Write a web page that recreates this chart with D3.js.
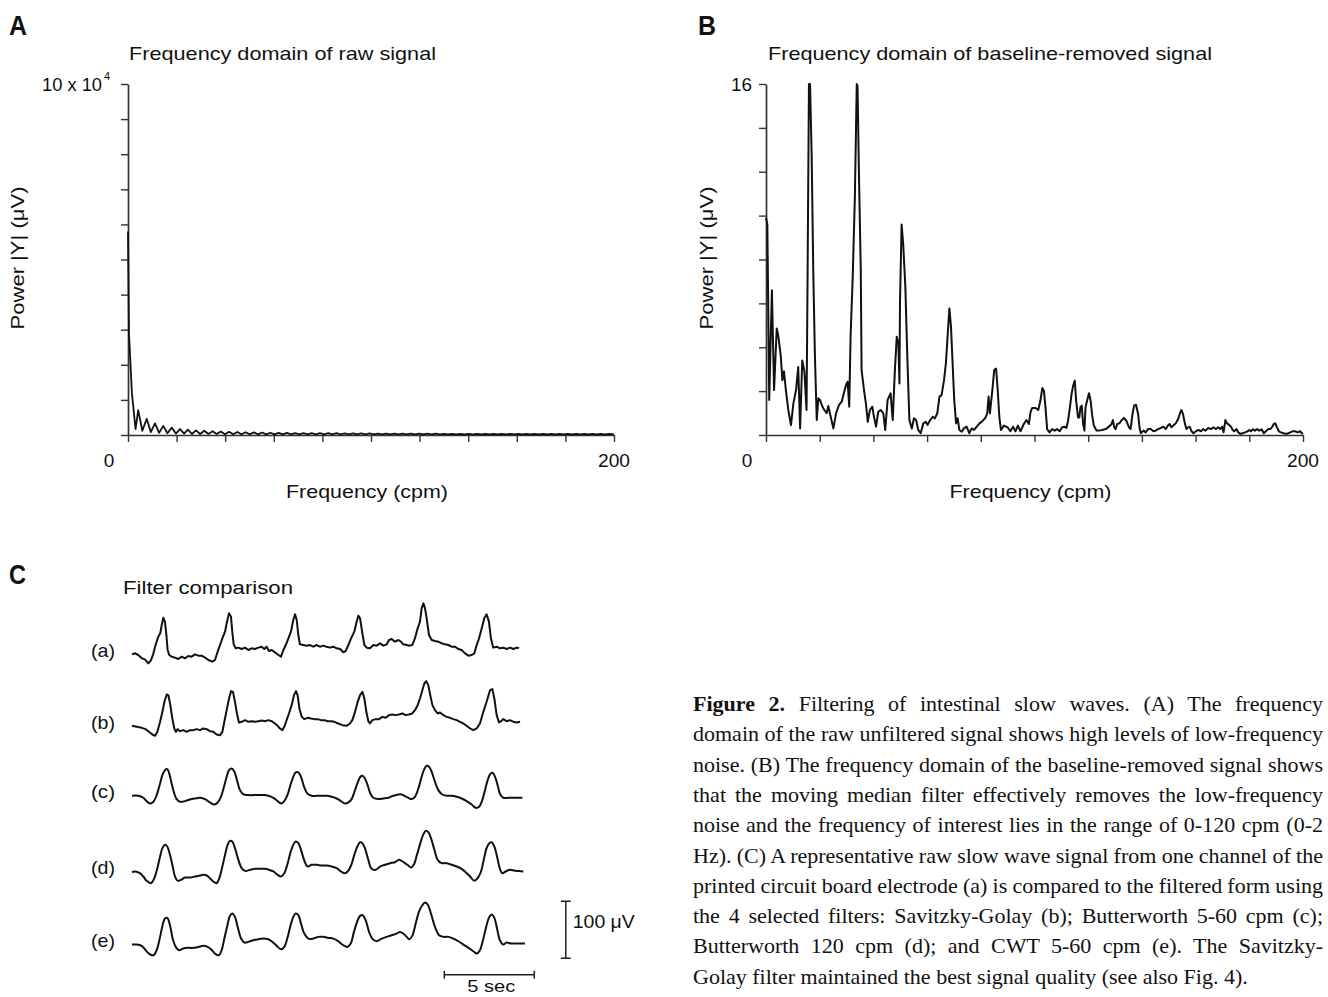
<!DOCTYPE html>
<html>
<head>
<meta charset="utf-8">
<script src="https://cdn.jsdelivr.net/npm/d3@7"></script>
<style>
  body { margin: 0; background: #fff; }
  svg { display: block; }
  text { fill: #111; font-family: "Liberation Sans", Arial, sans-serif; }
  .axis path, .axis line { stroke: #333; }
  .axis path { stroke-width: 1.7; }
  .axis line { stroke-width: 1.4; }
</style>
</head>
<body>
<svg id="fig" width="1328" height="997"></svg>
<script>
// ---- data ----------------------------------------------------------------
// frequency (cpm) ticks shared by both spectra
const freqTicks = [0, 20, 40, 60, 80, 100, 120, 140, 160, 180, 200];
const rawTicks = [0, 1, 2, 3, 4, 5, 6, 7, 8, 9, 10];          // x 10^4 µV
const cleanTicks = [0, 2, 4, 6, 8, 10, 12, 14, 16];             // µV

// A: raw signal spectrum, [cpm, power x 10^4]
const rawSpectrum = [
  [0,5.8],[0.4,2.9],[1.6,1.2],[3.1,0.17],[4.2,0.71],[5.9,0.12],[7.7,0.46],[9.4,0.08],
  [11.1,0.33],[12.8,0.06],[14.5,0.26],[16.2,0.05],[18.0,0.21],[19.7,0.04],[21.4,0.17],
  [23.1,0.04],[24.6,0.15],[26.3,0.03],[28.0,0.13],[29.7,0.03],[31.4,0.12],[33.1,0.03],
  [34.8,0.11],[36.5,0.03],[38.2,0.1],[39.9,0.02],[41.6,0.09],[43.3,0.02],[45.0,0.085],
  [46.7,0.02],[48.4,0.08],[50.1,0.02],[51.8,0.075],[53.5,0.02],[55.2,0.07],[56.9,0.02],
  [58.6,0.065],[60.3,0.02],[62.0,0.06],[63.7,0.02],[65.4,0.06],[67.1,0.02],[68.8,0.055],
  [70.5,0.02],[72.2,0.055],[73.9,0.02],[75.6,0.05],[77.3,0.02],[79.0,0.05],[80.7,0.02],
  [82.4,0.05],[84.1,0.02],[85.8,0.05],[87.5,0.02],[89.2,0.045],[90.9,0.02],[92.6,0.045],
  [94.3,0.02],[96.0,0.045],[97.7,0.02],[99.4,0.045],[101.1,0.02],[102.8,0.04],[104.5,0.02],
  [106.2,0.04],[107.9,0.02],[109.6,0.04],[111.3,0.02],[113.0,0.04],[114.7,0.02],[116.4,0.04],
  [118.1,0.02],[119.8,0.04],[121.5,0.02],[123.2,0.04],[124.9,0.02],[126.6,0.04],[128.3,0.02],
  [130.0,0.035],[131.7,0.02],[133.4,0.035],[135.1,0.02],[136.8,0.035],[138.5,0.02],[140.2,0.035],
  [141.9,0.02],[143.6,0.035],[145.3,0.02],[147.0,0.035],[148.7,0.02],[150.4,0.035],[152.1,0.02],
  [153.8,0.035],[155.5,0.02],[157.2,0.035],[158.9,0.02],[160.6,0.035],[162.3,0.02],[164.0,0.035],
  [165.7,0.02],[167.4,0.035],[169.1,0.02],[170.8,0.035],[172.5,0.02],[174.2,0.035],[175.9,0.02],
  [177.6,0.035],[179.3,0.02],[181.0,0.035],[182.7,0.02],[184.4,0.035],[186.1,0.02],[187.8,0.035],
  [189.5,0.02],[191.2,0.035],[192.9,0.02],[194.6,0.035],[196.3,0.02],[198.0,0.035],[200,0.02]
];

// B: baseline-removed spectrum, [cpm, power µV]
const cleanSpectrum = [
  [0,9.9],[0.5,9.6],[1.2,1.6],[2.2,6.6],[3.0,2.05],[4.0,4.86],[4.6,4.5],[5.5,3.6],[6.1,2.5],
  [6.7,2.9],[7.4,2.05],[8.3,1.14],[9.3,0.45],[10.2,1.44],[11.2,2.05],[12.0,3.1],[12.7,0.3],
  [13.5,3.4],[14.3,2.9],[15.1,1.14],[15.5,7.5],[16.0,16],[16.4,16],[17.0,12.8],[17.6,7.5],
  [18.2,3.7],[18.9,0.68],[19.5,1.67],[20.1,1.6],[21.0,1.3],[21.7,1.14],[22.6,0.99],[23.2,1.32],
  [24.1,0.83],[25.1,0.3],[26.1,0.99],[27.2,1.37],[28.2,1.52],[29.0,1.9],[29.8,2.28],[30.4,2.43],
  [31.0,1.29],[31.5,4.48],[32.3,7.2],[33.1,10.85],[33.8,16],[34.1,15.9],[34.6,12],[35.3,7.5],
  [35.6,2.96],[36.5,2.05],[37.2,1.44],[37.9,0.6],[38.7,1.14],[39.6,1.29],[40.2,0.83],[41.0,0.38],
  [41.8,1.06],[42.7,1.14],[43.7,0.99],[44.4,0.23],[45.3,1.6],[46.4,1.9],[47.2,0.68],[48.0,2.96],
  [48.7,4.48],[49.3,4.17],[49.7,2.35],[49.9,6.0],[50.5,9.6],[51.1,8.7],[51.9,6.75],[52.6,3.7],
  [53.4,0.68],[54.3,0.3],[55.1,0.76],[55.9,0.68],[56.7,0.23],[57.6,0.08],[58.6,0.53],[59.5,0.6],
  [60.2,0.46],[61.1,0.68],[62.1,0.83],[62.9,0.76],[63.8,0.99],[64.6,1.75],[65.4,1.82],[66.3,2.5],
  [67.0,3.26],[67.7,4.63],[68.3,5.77],[68.9,4.93],[69.5,3.26],[70.1,1.6],[70.8,0.53],[71.4,0.76],
  [72.0,0.23],[72.9,0.15],[73.7,0.3],[74.7,0.38],[75.7,0.08],[76.6,0.3],[77.5,0.23],[78.5,0.38],
  [79.5,0.53],[80.3,0.6],[81.6,0.76],[82.4,0.99],[82.9,1.75],[83.4,0.99],[84.3,2.05],[85.0,2.96],
  [85.7,3.03],[86.3,2.05],[86.9,0.83],[87.5,0.23],[88.6,0.43],[90.0,0.35],[91.0,0.17],[92.0,0.38],
  [92.9,0.17],[93.8,0.43],[94.8,0.17],[96.0,0.5],[97.0,0.68],[97.9,0.5],[98.5,1.03],[99.1,1.23],
  [100.4,1.23],[101.4,1.14],[102.2,1.57],[102.9,2.14],[103.5,2.02],[104.1,1.26],[104.7,0.27],
  [105.6,0.12],[106.6,0.27],[107.5,0.2],[108.4,0.27],[109.4,0.17],[110.3,0.35],[111.3,0.38],
  [111.9,0.32],[112.5,0.65],[113.2,1.26],[113.8,1.87],[114.4,2.25],[115.0,2.48],[115.5,1.57],
  [116.2,0.8],[116.7,0.8],[117.1,1.26],[117.6,1.34],[118.1,0.5],[118.6,0.2],[119.0,1.26],
  [119.6,1.57],[120.3,1.9],[120.9,1.57],[121.5,0.88],[122.1,0.43],[123.1,0.2],[124.0,0.2],
  [125.2,0.23],[126.5,0.27],[127.7,0.38],[128.7,0.5],[129.2,0.68],[129.7,0.35],[130.2,0.27],
  [130.8,0.5],[131.6,0.53],[132.3,0.65],[133.3,0.78],[134.2,0.65],[135.2,0.35],[135.8,0.27],
  [136.5,0.96],[137.1,1.34],[137.8,1.38],[138.6,0.96],[139.1,0.35],[139.6,0.08],[140.6,0.2],
  [141.4,0.12],[142.3,0.27],[143.3,0.27],[144.3,0.17],[145.1,0.2],[146.0,0.27],[147.0,0.32],
  [148.0,0.38],[148.9,0.27],[149.7,0.43],[150.3,0.5],[151.0,0.35],[151.7,0.43],[152.6,0.53],
  [153.5,0.73],[154.1,0.96],[154.7,1.14],[155.3,0.96],[156.0,0.53],[156.6,0.27],[157.2,0.35],
  [157.8,0.38],[158.5,0.17],[159.2,0.08],[160.1,0.17],[161.0,0.23],[162.0,0.17],[162.8,0.27],
  [163.7,0.2],[164.7,0.32],[165.7,0.27],[166.6,0.35],[167.6,0.27],[168.4,0.35],[169.2,0.27],
  [169.9,0.38],[170.4,0.12],[171.1,0.68],[171.7,0.53],[172.4,0.47],[173.2,0.38],[173.8,0.23],
  [174.4,0.17],[175.2,0.27],[175.9,0.12],[176.7,0.05],[177.5,0.08],[178.4,0.12],[179.4,0.17],
  [180.0,0.23],[180.6,0.17],[181.4,0.26],[182.1,0.2],[182.9,0.27],[183.7,0.2],[184.6,0.26],
  [185.4,0.08],[186.2,0.17],[187.1,0.27],[187.8,0.27],[188.6,0.38],[189.1,0.5],[189.7,0.53],
  [190.3,0.35],[191.0,0.17],[191.8,0.12],[192.8,0.08],[193.7,0.05],[194.5,0.08],[195.3,0.12],
  [196.1,0.17],[197.0,0.17],[198.0,0.12],[198.9,0.17],[199.6,0.08],[200,0.05]
];

// C: slow-wave traces, [sec, µV]
const traceNames = ["(a)", "(b)", "(c)", "(d)", "(e)"];
const traceOffsets = [0, -126, -247, -381, -508];   // vertical stacking, µV

const traceA = [
  [0,1],[0.17,3],[0.35,0],[0.54,-5.8],[0.72,-7.6],[0.91,-14.6],[1.06,-8.8],[1.19,2.9],[1.31,17.5],
  [1.46,32.2],[1.57,38],[1.65,52.6],[1.74,65.5],[1.83,58.5],[1.91,35.1],[1.98,8.8],[2.07,0],
  [2.2,-2.9],[2.39,-4.7],[2.57,-7],[2.76,-2.9],[2.94,-5.8],[3.13,-1.8],[3.31,-2.9],[3.5,1.2],
  [3.69,-1.2],[3.87,-1.2],[4.06,-4.7],[4.24,-8.8],[4.46,-11.7],[4.61,-8.8],[4.76,5.8],[4.89,17.5],
  [5.02,29.2],[5.17,40.9],[5.26,55.6],[5.39,73.1],[5.5,67.3],[5.57,40.9],[5.65,18.7],[5.76,11.7],
  [5.91,12.9],[6.09,10.5],[6.28,12.9],[6.46,8.8],[6.65,11.7],[6.83,10.5],[7.02,12.9],[7.2,14.6],
  [7.35,10.5],[7.48,14.6],[7.61,7],[7.76,8.8],[7.94,4.7],[8.13,0],[8.28,-2.9],[8.41,8.8],[8.54,17.5],
  [8.69,29.2],[8.83,40.9],[8.96,61.4],[9.06,71.3],[9.15,61.4],[9.24,35.1],[9.33,18.7],[9.52,17.5],
  [9.7,16.4],[9.89,17.5],[10.07,14.6],[10.26,17.5],[10.44,14.6],[10.63,16.4],[10.81,14.6],[11,12.9],
  [11.19,14.6],[11.37,11.7],[11.56,10.5],[11.74,4.7],[11.87,7],[12.02,17.5],[12.17,29.2],[12.35,40.9],
  [12.48,58.5],[12.57,69],[12.67,64.3],[12.8,38],[12.91,17.5],[13.04,12.9],[13.22,11.7],[13.41,17.5],
  [13.59,16.4],[13.78,20.5],[13.96,16.4],[14.15,18.7],[14.28,26.3],[14.43,28.1],[14.61,23.4],
  [14.8,26.3],[14.94,23.4],[15.07,18.7],[15.26,17.5],[15.44,16.4],[15.57,17.5],[15.72,29.2],
  [15.87,46.8],[16,58.5],[16.09,81.9],[16.19,90.6],[16.28,81.9],[16.37,64.3],[16.5,35.1],[16.65,26.3],
  [16.83,24.6],[17.02,23.4],[17.2,20.5],[17.39,18.7],[17.57,17.5],[17.76,14.6],[17.94,14.6],
  [18.13,10.5],[18.31,8.8],[18.5,2.9],[18.69,-1.2],[18.87,0],[19.02,2.9],[19.15,17.5],[19.28,29.2],
  [19.43,46.8],[19.57,64.3],[19.7,71.3],[19.83,58.5],[19.94,29.2],[20.07,12.9],[20.26,14.6],
  [20.44,11.7],[20.63,12.9],[20.81,10.5],[21,12.9],[21.19,10.5],[21.37,12.9],[21.5,11.7]
];

const traceB = [
  [0,1.8],[0.26,0],[0.54,-1.8],[0.76,-4.1],[0.94,-8.8],[1.13,-13.5],[1.28,-15.8],[1.41,-8.8],
  [1.56,8.8],[1.69,26.3],[1.8,43.9],[1.93,56.7],[2.02,55.6],[2.13,38],[2.24,14.6],[2.35,-2.9],
  [2.44,-8.8],[2.54,-4.1],[2.67,-7.6],[2.85,-5.8],[3.04,-8.8],[3.22,-5.8],[3.41,-5.8],[3.59,-4.1],
  [3.78,-5.8],[3.96,-2.9],[4.15,-4.1],[4.33,-7.6],[4.52,-8.8],[4.7,-13.5],[4.89,-14.6],[5.02,-8.8],
  [5.13,8.8],[5.26,29.2],[5.39,49.7],[5.5,62.6],[5.61,61.4],[5.72,43.9],[5.83,23.4],[5.94,7.6],
  [6.09,8.8],[6.28,11.7],[6.46,8.8],[6.65,9.9],[6.83,8.8],[7.02,9.9],[7.2,11.1],[7.39,9.9],
  [7.57,11.7],[7.76,9.9],[7.94,5.8],[8.09,1.8],[8.22,-2.9],[8.35,-5.8],[8.46,0],[8.59,11.7],
  [8.72,23.4],[8.87,38],[9,55.6],[9.11,62.6],[9.2,55.6],[9.3,32.2],[9.43,17.5],[9.57,13.5],
  [9.76,15.8],[9.94,14.6],[10.13,13.5],[10.31,13.5],[10.5,11.7],[10.69,11.7],[10.87,9.9],
  [11.06,9.9],[11.24,8.8],[11.46,5.8],[11.69,2.9],[11.93,1.8],[12.11,5.8],[12.24,11.7],[12.39,26.3],
  [12.54,43.9],[12.67,55.6],[12.8,61.4],[12.91,49.7],[13.02,26.3],[13.13,9.9],[13.22,5.8],
  [13.35,11.7],[13.54,13.5],[13.72,13.5],[13.91,17.5],[14.09,15.8],[14.28,20.5],[14.46,21.6],
  [14.65,20.5],[14.83,21.6],[15.02,23.4],[15.2,20.5],[15.39,21.6],[15.57,23.4],[15.72,29.2],
  [15.87,38],[16,49.7],[16.13,64.3],[16.24,76],[16.35,80.1],[16.46,73.1],[16.57,55.6],[16.69,38],
  [16.83,29.2],[16.98,23.4],[17.11,25.1],[17.3,20.5],[17.48,17.5],[17.67,15.8],[17.85,13.5],
  [18.04,11.7],[18.22,8.8],[18.41,5.8],[18.59,1.8],[18.78,-2.9],[18.96,-5.8],[19.15,-2.9],
  [19.33,5.8],[19.52,26.3],[19.7,43.9],[19.89,64.3],[20.02,66.1],[20.13,49.7],[20.26,20.5],
  [20.39,7.6],[20.5,9.9],[20.63,13.5],[20.81,9.9],[21,11.7],[21.19,8.8],[21.37,7.6],[21.56,8.8]
];

const traceC = [
  [0,0],[0.35,0],[0.63,-3.5],[0.81,-9.4],[1,-13.5],[1.19,-10.5],[1.37,1.2],[1.56,21.6],[1.7,37.4],
  [1.83,45],[1.96,46.8],[2.07,39.2],[2.2,21.6],[2.35,4.1],[2.48,-5.8],[2.67,-10.5],[2.94,-9.4],
  [3.22,-6.4],[3.5,-4.7],[3.78,-3.5],[4.06,-5.8],[4.33,-11.7],[4.57,-15.2],[4.76,-11.7],[4.94,-1.8],
  [5.11,15.8],[5.26,33.3],[5.39,45],[5.54,48],[5.69,42.1],[5.83,27.5],[6,9.9],[6.19,2.3],[6.46,1.2],
  [6.74,1.2],[7.02,1.2],[7.3,1.2],[7.57,0],[7.85,-3.5],[8.09,-9.4],[8.28,-13.5],[8.46,-9.4],
  [8.65,2.3],[8.81,19.9],[8.96,33.3],[9.09,40.9],[9.24,40.9],[9.39,33.3],[9.56,15.8],[9.74,4.1],
  [9.98,0],[10.26,0],[10.54,0],[10.81,0],[11.09,-1.8],[11.37,-4.7],[11.61,-9.4],[11.83,-13.5],
  [12.02,-11.7],[12.2,-5.8],[12.39,9.9],[12.54,23.4],[12.69,33.3],[12.8,35.1],[12.94,30.4],
  [13.09,18.7],[13.24,4.1],[13.41,-3.5],[13.69,-5.8],[13.96,-4.7],[14.24,-3.5],[14.52,0],[14.8,2.3],
  [14.98,2.3],[15.17,-0.6],[15.35,-3.5],[15.54,-5.8],[15.72,-1.8],[15.91,12.9],[16.09,33.3],
  [16.24,46.8],[16.37,52.6],[16.5,50.9],[16.65,42.1],[16.83,24.6],[17.02,9.9],[17.24,2.3],[17.48,0],
  [17.76,0],[18.04,-1.8],[18.31,-4.7],[18.59,-9.4],[18.87,-15.2],[19.09,-21.1],[19.28,-19.3],
  [19.46,-7.6],[19.61,9.9],[19.76,27.5],[19.89,37.4],[20.02,40.4],[20.17,33.3],[20.31,18.7],
  [20.46,2.3],[20.63,-3.5],[20.91,-3.5],[21.28,-3.5],[21.69,-3.5]
];

const traceD = [
  [0,0],[0.17,1.2],[0.44,-1.8],[0.63,-7.6],[0.81,-15.2],[1.06,-19.3],[1.24,-10.5],[1.41,7],
  [1.56,27.5],[1.69,42.1],[1.83,48],[1.96,45],[2.11,30.4],[2.26,9.9],[2.39,-7.6],[2.54,-15.2],
  [2.72,-13.5],[2.94,-9.4],[3.22,-9.4],[3.5,-7.6],[3.78,-5.8],[3.96,-4.7],[4.15,-5.8],[4.33,-10.5],
  [4.52,-16.4],[4.7,-19.3],[4.85,-10.5],[5.02,9.9],[5.17,30.4],[5.31,48],[5.44,55],[5.57,53.8],
  [5.72,42.1],[5.91,21.6],[6.09,7],[6.28,2.3],[6.56,4.1],[6.83,5.8],[7.11,5.8],[7.39,5.8],[7.61,4.1],
  [7.85,1.2],[8.09,-4.7],[8.28,-7.6],[8.46,-1.8],[8.65,15.8],[8.81,35.1],[8.96,48],[9.09,53.8],
  [9.24,50.9],[9.39,39.2],[9.56,21.6],[9.76,9.9],[9.98,12.9],[10.26,12.9],[10.54,11.7],[10.81,11.7],
  [11.09,9.9],[11.37,7],[11.61,1.2],[11.83,-1.8],[11.98,1.2],[12.17,11.7],[12.35,30.4],[12.52,45],
  [12.67,52.6],[12.8,50.9],[12.94,42.1],[13.13,21.6],[13.31,5.8],[13.54,4.1],[13.78,9.9],[14.06,12.9],
  [14.33,15.8],[14.61,17.5],[14.83,21.6],[14.98,19.9],[15.17,15.8],[15.35,11.7],[15.5,8.2],
  [15.65,12.9],[15.83,30.4],[16.02,50.9],[16.19,66.7],[16.33,72.5],[16.46,70.2],[16.61,59.6],
  [16.8,39.2],[16.98,21.6],[17.2,15.8],[17.48,15.8],[17.76,12.9],[18.04,9.9],[18.31,5.8],[18.54,0],
  [18.78,-7.6],[19.02,-15.2],[19.2,-10.5],[19.39,1.2],[19.54,21.6],[19.7,42.1],[19.85,50.9],
  [19.98,52.6],[20.13,45],[20.28,27.5],[20.43,7],[20.57,-1.8],[20.76,1.2],[21,4.1],[21.28,2.3],
  [21.74,1.2]
];

const traceE = [
  [0,0],[0.26,0],[0.54,-2.3],[0.72,-8.2],[0.94,-15.8],[1.19,-18.7],[1.37,-9.9],[1.56,13.5],
  [1.7,33.9],[1.83,45.6],[1.96,46.8],[2.11,33.9],[2.26,10.5],[2.43,-4.1],[2.61,-9.9],[2.85,-7],
  [3.13,-5.8],[3.41,-5.8],[3.69,-4.1],[3.96,-2.3],[4.2,-4.1],[4.39,-8.2],[4.61,-15.8],[4.83,-18.7],
  [4.98,-9.9],[5.13,10.5],[5.28,31],[5.44,50.3],[5.57,54.4],[5.72,48.5],[5.87,31],[6.06,10.5],
  [6.24,3.5],[6.46,4.7],[6.74,7.6],[7.02,9.4],[7.3,10.5],[7.57,9.4],[7.8,4.7],[8.04,-2.3],[8.28,-8.2],
  [8.46,-4.1],[8.65,13.5],[8.81,33.9],[8.96,48.5],[9.09,54.4],[9.24,51.5],[9.39,36.8],[9.57,19.3],
  [9.8,10.5],[10.07,10.5],[10.35,13.5],[10.63,13.5],[10.91,11.7],[11.19,10.5],[11.46,5.8],
  [11.74,-1.2],[11.96,-4.1],[12.15,1.8],[12.33,22.2],[12.52,40.9],[12.67,50.3],[12.81,51.5],
  [12.98,42.7],[13.17,22.2],[13.35,10.5],[13.59,5.8],[13.87,10.5],[14.15,13.5],[14.43,16.4],
  [14.7,19.3],[14.89,22.2],[15.07,19.3],[15.26,13.5],[15.41,9.4],[15.57,15.2],[15.76,36.8],
  [15.94,57.3],[16.13,69],[16.28,73.7],[16.43,70.2],[16.61,54.4],[16.83,31],[17.06,16.4],[17.3,13.5],
  [17.57,13.5],[17.85,10.5],[18.13,5.8],[18.41,0],[18.69,-5.8],[18.96,-11.7],[19.15,-15.8],
  [19.33,-9.9],[19.52,10.5],[19.7,33.9],[19.85,48.5],[19.98,52.6],[20.13,46.8],[20.28,28.1],
  [20.44,7.6],[20.63,0],[20.81,3.5],[21.06,1.8],[21.37,1.8],[21.83,1.8]
];

const traces = [traceA, traceB, traceC, traceD, traceE];

const captionLines = [
  "Filtering of intestinal slow waves. (A) The frequency",
  "domain of the raw unfiltered signal shows high levels of low-frequency",
  "noise. (B) The frequency domain of the baseline-removed signal shows",
  "that the moving median filter effectively removes the low-frequency",
  "noise and the frequency of interest lies in the range of 0-120 cpm (0-2",
  "Hz). (C) A representative raw slow wave signal from one channel of the",
  "printed circuit board electrode (a) is compared to the filtered form using",
  "the 4 selected filters: Savitzky-Golay (b); Butterworth 5-60 cpm (c);",
  "Butterworth 120 cpm (d); and CWT 5-60 cpm (e). The Savitzky-",
  "Golay filter maintained the best signal quality (see also Fig. 4)."
];

// ---- drawing ---------------------------------------------------------------
const svg = d3.select("#fig");

function label(parent, x, y, str, o = {}) {
  const t = parent.append("text")
    .attr("x", x).attr("y", y)
    .attr("font-size", o.size || 20)
    .attr("font-weight", o.weight || "normal")
    .attr("text-anchor", o.anchor || "start")
    .text(str);
  if (o.width) t.attr("textLength", o.width).attr("lengthAdjust", "spacingAndGlyphs");
  if (o.rotate) t.attr("transform", `rotate(${o.rotate},${x},${y})`);
  return t;
}

function spectrumPanel(o) {
  const x = d3.scaleLinear().domain([0, 200]).range([o.left, o.right]);
  const y = d3.scaleLinear().domain([0, o.yMax]).range([435, 84]);
  const g = svg.append("g");

  g.append("g").attr("class", "axis")
    .attr("transform", "translate(0,435)")
    .call(d3.axisBottom(x).tickValues(freqTicks).tickSize(7).tickSizeOuter(0).tickFormat(""));
  g.append("g").attr("class", "axis")
    .attr("transform", `translate(${o.left},0)`)
    .call(d3.axisLeft(y).tickValues(o.yTicks).tickSize(7).tickSizeOuter(0).tickFormat(""));

  g.append("path")
    .datum(o.data)
    .attr("fill", "none")
    .attr("stroke", "#111")
    .attr("stroke-width", o.lineWidth)
    .attr("stroke-linejoin", "round")
    .attr("d", d3.line().x(d => x(d[0])).y(d => y(d[1])));

  label(g, x(0) - 19, 467, "0", { anchor: "middle", size: 19 });
  label(g, x(200), 467, "200", { anchor: "middle", size: 19, width: 32 });
  label(g, (x(0) + x(200)) / 2 - 4, 498, "Frequency (cpm)", { anchor: "middle", size: 19, width: 162 });
  label(g, o.titleX, 60, o.title, { size: 19, width: o.titleW });
  label(g, o.yLabelX, 258, "Power |Y|  (\u03bcV)", { anchor: "middle", size: 19, width: 143, rotate: -90 });
  label(g, o.letterX, 35, o.letter, { size: 28, weight: "bold", width: 18 });
  return { x, y, g };
}

const pa = spectrumPanel({
  left: 128, right: 614, yMax: 10, yTicks: rawTicks, data: rawSpectrum, lineWidth: 1.8,
  title: "Frequency domain of raw signal", titleX: 129, titleW: 307,
  yLabelX: 24, letter: "A", letterX: 9
});
label(pa.g, 42, 91, "10 x 10", { size: 19, width: 60 });
label(pa.g, 104, 80, "4", { size: 11 });

const pb = spectrumPanel({
  left: 766, right: 1303, yMax: 16, yTicks: cleanTicks, data: cleanSpectrum, lineWidth: 2,
  title: "Frequency domain of baseline-removed signal", titleX: 768, titleW: 444,
  yLabelX: 713, letter: "B", letterX: 698
});
label(pb.g, 752, 91, "16", { anchor: "end", size: 19, width: 21 });

// ---- panel C -----------------------------------------------------------------
const tx = d3.scaleLinear().domain([0, 22]).range([132, 528]);
const ty = d3.scaleLinear().domain([0, -100]).range([655, 712]);
const gc = svg.append("g");

label(gc, 9, 584, "C", { size: 28, weight: "bold", width: 17 });
label(gc, 123, 594, "Filter comparison", { size: 18, width: 170 });

traces.forEach((tr, i) => {
  const line = d3.line()
    .x(d => tx(d[0]))
    .y(d => ty(d[1] + traceOffsets[i]))
    .curve(i < 2 ? d3.curveLinear : d3.curveCatmullRom.alpha(0.5));
  gc.append("path")
    .datum(tr)
    .attr("fill", "none")
    .attr("stroke", "#111")
    .attr("stroke-width", 2)
    .attr("stroke-linejoin", "round")
    .attr("d", line);
  label(gc, 115, ty(traceOffsets[i]) + 2, traceNames[i], { anchor: "end", size: 19, width: 24 });
});

// scale bars: 100 µV and 5 sec
const vbX = tx(24.1), vb0 = ty(-532), vb1 = ty(-432);
gc.append("path")
  .attr("d", `M${vbX},${vb0}V${vb1}M${vbX - 5},${vb0}H${vbX + 5}M${vbX - 5},${vb1}H${vbX + 5}`)
  .attr("stroke", "#222").attr("stroke-width", 1.5).attr("fill", "none");
label(gc, vbX + 7, 928, "100 \u03bcV", { size: 18, width: 62 });

const hbY = ty(-561), hb0 = tx(17.35), hb1 = tx(22.35);
gc.append("path")
  .attr("d", `M${hb0},${hbY}H${hb1}M${hb0},${hbY - 4}V${hbY + 4}M${hb1},${hbY - 4}V${hbY + 4}`)
  .attr("stroke", "#222").attr("stroke-width", 1.5).attr("fill", "none");
label(gc, (hb0 + hb1) / 2 + 2, 992, "5 sec", { anchor: "middle", size: 17, width: 48 });

// ---- caption -----------------------------------------------------------------
const cap = svg.append("g")
  .attr("font-family", "'Liberation Serif', 'Times New Roman', serif")
  .attr("font-size", 22);
const capLeft = 693, capWidth = 630;

captionLines.forEach((s, i) => {
  const t = cap.append("text")
    .attr("x", capLeft)
    .attr("y", 711 + i * 30.3)
    .style("font-family", "'Liberation Serif', 'Times New Roman', serif");
  if (i === 0) {
    t.append("tspan").attr("font-weight", "bold").text("Figure 2.");
    t.append("tspan").text(" " + s);
  } else {
    t.text(s);
  }
  if (i < captionLines.length - 1) {
    const full = i === 0 ? "Figure 2. " + s : s;
    const spaces = (full.match(/ /g) || []).length;
    const natural = t.node().getComputedTextLength();
    t.attr("word-spacing", (capWidth - natural) / spaces);
  }
});
</script>
</body>
</html>
